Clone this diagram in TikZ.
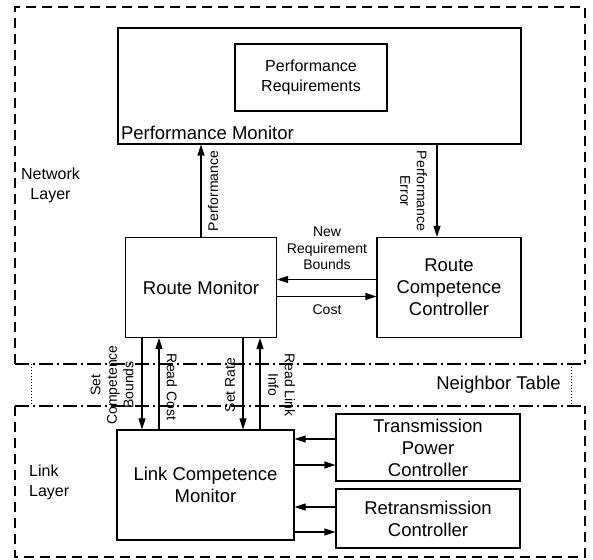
\documentclass[tikz,border=0pt]{standalone}
\usepackage{fontspec}
\setmainfont{Liberation Sans}
\usetikzlibrary{arrows.meta}

\begin{document}
\begin{tikzpicture}[x=1pt, y=1pt,
    box/.style={draw, line width=1.2pt, inner sep=0pt, align=center,
                font=\fontsize{18.5}{22}\selectfont},
    flow/.style={line width=1.2pt, -{Triangle[length=11pt, width=7pt]}},
    lbl/.style={inner sep=0pt, align=center, font=\fontsize{14}{16.5}\selectfont},
    layerlbl/.style={inner sep=0pt, font=\fontsize{16}{20}\selectfont},
    layerline/.style={line width=1.1pt, dash pattern=on 10pt off 6pt},
    borderline/.style={line width=1.1pt, dash pattern=on 14pt off 4pt on 2pt off 4pt},
    tabline/.style={line width=0.8pt, dash pattern=on 1pt off 2pt}
]
  \useasboundingbox (0,0) rectangle (593,559);

  % Schichten
  \draw[layerline] (15,195) -- (15,552) -- (585,552) -- (585,195);
  \draw[layerline] (15,153) -- (15,2) -- (585,2) -- (585,153);
  \draw[borderline] (15,195) -- (585,195);
  \draw[borderline] (15,153) -- (585,153);
  \draw[tabline] (31,195) -- (31,153);
  \draw[tabline] (571,195) -- (571,153);

  \node[layerlbl, align=center] (netlayer) at (50.5,374) {Network\\Layer};
  \node[layerlbl, align=left, anchor=west] (linklayer) at (29,77) {Link\\Layer};
  \node[box, draw=none] (neighbor) at (498.5,174) {Neighbor Table};

  % Bloecke
  \node[box, minimum width=403pt, minimum height=116pt] (pm) at (319.5,473) {};
  \node[box, font=\fontsize{16}{20}\selectfont, minimum width=152pt, minimum height=67pt] (req) at (311,481.5) {Performance\\Requirements};
  \node[box, draw=none, anchor=west] (pmlbl) at ([xshift=3pt, yshift=12pt]pm.south west) {Performance Monitor};
  \node[box, minimum width=151pt, minimum height=100pt] (rm) at (201,271.5) {Route Monitor};
  \node[box, minimum width=144pt, minimum height=100pt] (rcc) at (449,271.5) {Route\\Competence\\Controller};
  \node[box, minimum width=177pt, minimum height=110pt] (lcm) at (205.5,74) {Link Competence\\Monitor};
  \node[box, minimum width=184pt, minimum height=67pt] (tpc) at (428,111.5) {Transmission\\Power\\Controller};
  \node[box, minimum width=184pt, minimum height=59pt] (rc) at (428,40.5) {Retransmission\\Controller};

  % Pfeile Netzwerkschicht
  \draw[flow] (rm.north) -- (rm.north |- pm.south);
  \draw[flow] ([xshift=-12pt]rcc.north |- pm.south) -- ([xshift=-12pt]rcc.north);
  \draw[flow] ([yshift=8pt]rcc.west) -- ([yshift=8pt]rcc.west -| rm.east);
  \draw[flow] ([yshift=-9pt]rm.east) -- ([yshift=-9pt]rm.east -| rcc.west);

  \node[lbl, rotate=90] (perf) at (213,368) {Performance};
  \node[lbl, rotate=-90] (perferr) at (413.5,368) {Performance\\Error};
  \node[lbl] (newreq) at (327,310.5) {New\\Requirement\\Bounds};
  \node[lbl] (cost) at (327,249) {Cost};

  % Pfeile zwischen den Schichten
  \draw[flow] ([xshift=-63.5pt]lcm.north |- rm.south) -- ([xshift=-63.5pt]lcm.north);
  \draw[flow] ([xshift=-46.5pt]lcm.north) -- ([xshift=-46.5pt]lcm.north |- rm.south);
  \draw[flow] ([xshift=37.5pt]lcm.north |- rm.south) -- ([xshift=37.5pt]lcm.north);
  \draw[flow] ([xshift=54.5pt]lcm.north) -- ([xshift=54.5pt]lcm.north |- rm.south);

  \node[lbl, rotate=90] (setbounds) at (112,174) {Set\\Competence\\Bounds};
  \node[lbl, rotate=-90] (readcost) at (172,172) {Read Cost};
  \node[lbl, rotate=90] (setrate) at (230,174) {Set Rate};
  \node[lbl, rotate=-90] (readlink) at (281.5,174) {Read Link\\Info};

  % Pfeile Verbindungsschicht
  \draw[flow] ([yshift=8.5pt]tpc.west) -- ([yshift=8.5pt]tpc.west -| lcm.east);
  \draw[flow] ([yshift=-17.5pt]tpc.west -| lcm.east) -- ([yshift=-17.5pt]tpc.west);
  \draw[flow] ([yshift=11.5pt]rc.west) -- ([yshift=11.5pt]rc.west -| lcm.east);
  \draw[flow] ([yshift=-13.5pt]rc.west -| lcm.east) -- ([yshift=-13.5pt]rc.west);

\end{tikzpicture}
\end{document}
